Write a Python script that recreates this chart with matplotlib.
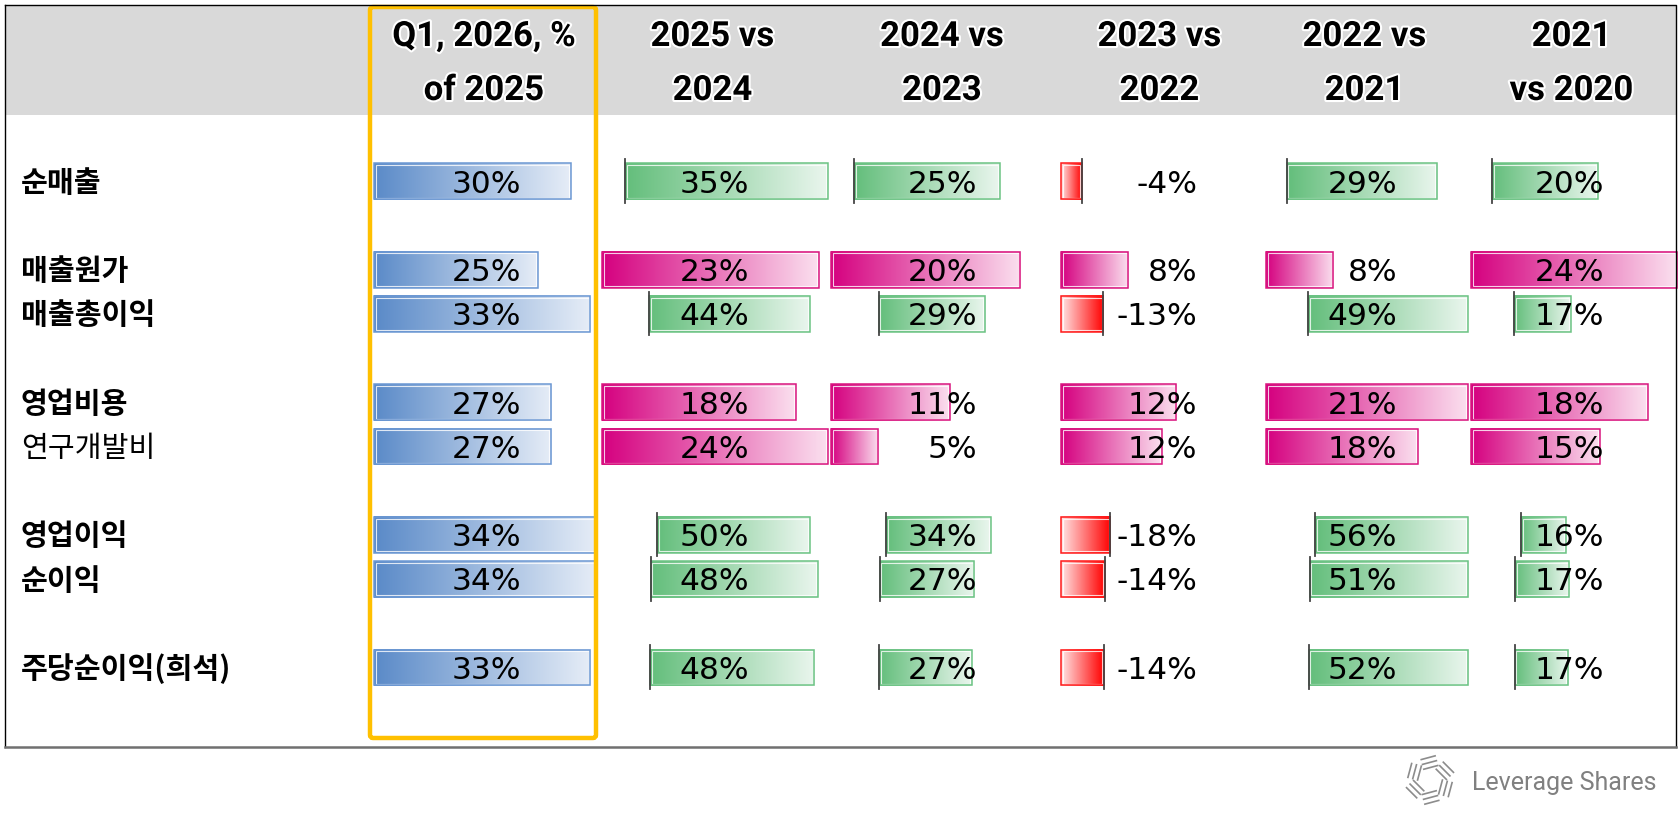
import numpy as np
import matplotlib
matplotlib.use("Agg")
import matplotlib.pyplot as plt
from matplotlib.colors import LinearSegmentedColormap
from matplotlib.patches import Rectangle, FancyBboxPatch
import matplotlib.patheffects as pe

# --- data -------------------------------------------------------------
row_labels = ["순매출", "매출원가", "매출총이익", "영업비용", "연구개발비",
              "영업이익", "순이익", "주당순이익(희석)"]
cost_rows = [False, True, False, True, True, False, False, False]
col_headers = [("Q1, 2026, %", "of 2025"), ("2025 vs", "2024"), ("2024 vs", "2023"),
               ("2023 vs", "2022"), ("2022 vs", "2021"), ("2021", "vs 2020")]

q1_share = [30, 25, 33, 27, 27, 34, 34, 33]
g_2025 = [35, 23, 44, 18, 24, 50, 48, 48]
g_2024 = [25, 20, 29, 11, 5, 34, 27, 27]
g_2023 = [-4, 8, -13, 12, 12, -18, -14, -14]
g_2022 = [29, 8, 49, 21, 18, 56, 51, 52]
g_2021 = [20, 24, 17, 18, 15, 16, 17, 17]
growth_cols = [g_2025, g_2024, g_2023, g_2022, g_2021]

# --- layout (pixels) --------------------------------------------------
W, H = 1680, 815
COL_EDGES = [370, 598, 827, 1057, 1262, 1467, 1676]
TEXT_RIGHT = [521, 749, 977, 1197, 1397, 1604]
ROW_SLOTS = [1, 3, 4, 6, 7, 9, 10, 12]
TOP, ROW_H, BAR_H = 115, 44.2, 37

BLUE = ("#5A8AC8", "#E6EDF7", "#6C98D3")
GREEN = ("#63BE7B", "#EAF6EE", "#6CC384")
MAGENTA = ("#D5007F", "#FBE0EF", "#D9167F")
RED = ("#FF0000", "#FFE6E6", "#FF1A1A")

fig = plt.figure(figsize=(W / 100, H / 100), dpi=100)


def px_axes(x0, y0, w, h, zorder=1):
    ax = fig.add_axes([x0 / W, 1 - (y0 + h) / H, w / W, h / H], zorder=zorder)
    ax.set_axis_off()
    return ax


def data_bar(x0, yc, width, v, lo, hi, colors, axis_line):
    c_dark, c_light, c_edge = colors
    ax = px_axes(x0, yc - BAR_H / 2, width, BAR_H, zorder=2)
    grad = np.linspace(0, 1, 256)[None, :]
    cmap = LinearSegmentedColormap.from_list("g", [c_dark, c_light])
    if v >= 0:
        ax.imshow(grad, cmap=cmap, extent=(0, v, 0, 1), aspect="auto")
    else:
        ax.imshow(grad[:, ::-1], cmap=cmap, extent=(v, 0, 0, 1), aspect="auto")
    # thin white inner line, then the coloured border (Excel look)
    dx = 1.6 * (hi - lo) / width
    dy = 1.6 / BAR_H
    ax.add_patch(Rectangle((min(v, 0) + dx, 0.015 + dy), abs(v) - 2 * dx,
                           0.97 - 2 * dy, fill=False, ec="white", lw=0.8,
                           alpha=0.8, clip_on=False))
    ax.add_patch(Rectangle((min(v, 0), 0.015), abs(v), 0.97, fill=False,
                           ec=c_edge, lw=1.1, clip_on=False))
    ax.set_xlim(lo, hi)
    ax.set_ylim(0, 1)
    if axis_line:
        ax.plot([0, 0], [-0.08, 1.1], color="#444444", lw=1.3, clip_on=False)


# background axes in pixel coordinates
base = px_axes(0, 0, W, H, zorder=0)
base.set_xlim(0, W)
base.set_ylim(H, 0)
base.add_patch(Rectangle((5, 5), 1671, 110, fc="#D9D9D9", ec="none"))

row_y = [TOP + ROW_H * (s + 0.5) for s in ROW_SLOTS]

# Q1 column (own range)
for i, v in enumerate(q1_share):
    x0 = COL_EDGES[0] + 4
    wid = COL_EDGES[1] - COL_EDGES[0] - 5
    data_bar(x0, row_y[i], wid, v, 0, max(q1_share), BLUE, False)

# growth columns: each row scaled on its own min/max like Excel data bars
for i in range(len(row_labels)):
    vals = [col[i] for col in growth_cols]
    lo, hi = min(0, min(vals)), max(0, max(vals))
    for j, v in enumerate(vals):
        c = j + 1
        x0 = COL_EDGES[c] + 4
        wid = COL_EDGES[c + 1] - COL_EDGES[c] - 3
        if cost_rows[i]:
            colors = MAGENTA
        else:
            colors = GREEN if v >= 0 else RED
        data_bar(x0, row_y[i], wid, v, lo, hi, colors, lo < 0)

# overlay for text, frame and highlight
top = px_axes(0, 0, W, H, zorder=5)
top.set_xlim(0, W)
top.set_ylim(H, 0)
top.patch.set_alpha(0)

top.plot([5, 1676, 1676], [5, 5, 747], color="black", lw=1)
top.plot([5, 5], [5, 747], color="black", lw=1)
top.plot([5, 1676], [747, 747], color="#707070", lw=1.8)

halo = [pe.withStroke(linewidth=3, foreground="white")]
for c, (l1, l2) in enumerate(col_headers):
    xc = (COL_EDGES[c] + COL_EDGES[c + 1]) / 2
    for txt, yb in ((l1, 46), (l2, 100)):
        top.text(xc, yb, txt, ha="center", va="baseline", fontsize=25,
                 fontweight="bold", family="Roboto", color="black",
                 path_effects=halo)

for i, lab in enumerate(row_labels):
    italic = lab == "연구개발비"
    top.text(21, row_y[i] + 10.5, lab, ha="left", va="baseline", fontsize=21,
             family=["Noto Sans CJK KR", "DejaVu Sans"],
             fontweight="normal" if italic else "bold",
             style="italic" if italic else "normal")

all_cols = [q1_share] + growth_cols
for c, col in enumerate(all_cols):
    for i, v in enumerate(col):
        top.text(TEXT_RIGHT[c], row_y[i] + 11.4, f"{v}%", ha="right",
                 va="baseline", fontsize=22.5, family="DejaVu Sans",
                 color="black")

top.add_patch(FancyBboxPatch((370, 7), 226, 731,
                             boxstyle="round,pad=0,rounding_size=3",
                             fc="none", ec="#FFC000", lw=3.2))

# logo
top.text(1472, 790, "Leverage Shares", ha="left", va="baseline",
         fontsize=18, family="Roboto", color="#808080")
cx, cy = 1430, 780
for k in range(6):
    th = np.deg2rad(60 * k + 15)
    u = np.array([np.cos(th), np.sin(th)])
    t = np.array([-np.sin(th), np.cos(th)])
    for j in range(3):
        r = 12 + 5 * j
        p0 = np.array([cx, cy]) + u * r - t * 4
        p1 = p0 + t * 16
        top.plot([p0[0], p1[0]], [p0[1], p1[1]], color="#8C8C8C", lw=1.2,
                 solid_capstyle="butt")

fig.savefig("out.png", dpi=100)
